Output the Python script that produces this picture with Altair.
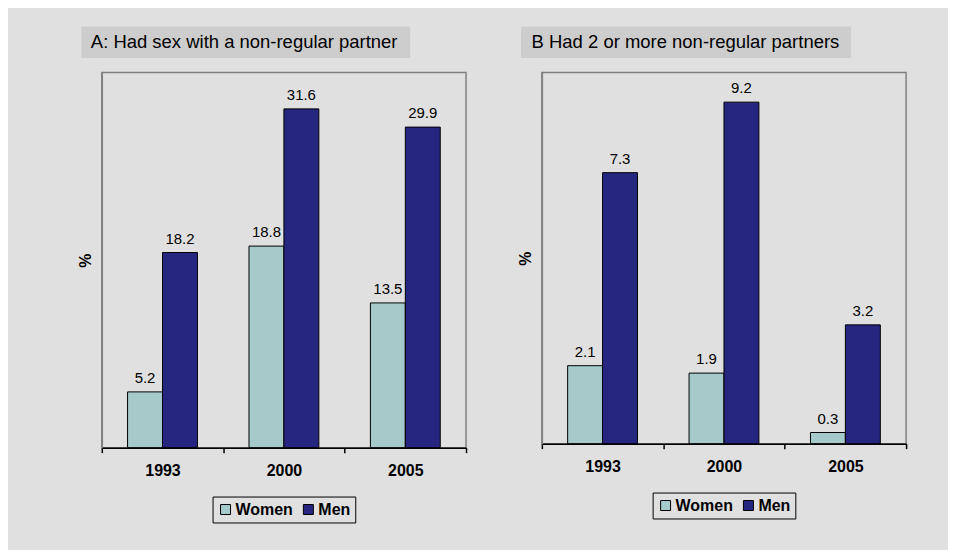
import altair as alt
import pandas as pd

# ---- data ----
years = ["1993", "2000", "2005"]
series = ["Women", "Men"]
a_women = [5.2, 18.8, 13.5]
a_men = [18.2, 31.6, 29.9]
b_women = [2.1, 1.9, 0.3]
b_men = [7.3, 9.2, 3.2]
title_a = "A: Had sex with a non-regular partner"
title_b = "B Had 2 or more non-regular partners"
colors = ["#a6caca", "#262680"]

FONT = "Liberation Sans"
W = 365
BG = "#e0e0e0"


def frame(w, m):
    rows = []
    for yr, v in zip(years, w):
        rows.append({"year": yr, "sex": "Women", "value": v})
    for yr, v in zip(years, m):
        rows.append({"year": yr, "sex": "Men", "value": v})
    return pd.DataFrame(rows)


def panel(df, ymax, height, title, legend_y, title_box, with_bg=False):
    x = alt.X(
        "year:N", sort=years,
        scale=alt.Scale(paddingInner=0, paddingOuter=0),
        axis=alt.Axis(title=None, labelAngle=0, labelFont=FONT, labelFontSize=16,
                      labelFontWeight="bold", labelColor="black", tickBand="extent",
                      tickSize=5, tickColor="black", tickWidth=1.5, domainColor="black",
                      domainWidth=1.5, labelPadding=10),
    )
    xo = alt.XOffset("sex:N", sort=series,
                     scale=alt.Scale(paddingInner=0, paddingOuter=0.738))
    y = alt.Y(
        "value:Q",
        scale=alt.Scale(domain=[0, ymax], nice=False, zero=True),
        axis=alt.Axis(labels=False, ticks=False, grid=False, domainColor="#808080",
                      domainWidth=1.5, title="%", titleFont=FONT, titleFontSize=16,
                      titleFontWeight="bold", titleColor="black", titleAngle=270,
                      titleX=-16, titleY=height / 2, titleBaseline="middle",
                      titleAlign="center"),
    )
    color = alt.Color(
        "sex:N", sort=series,
        scale=alt.Scale(domain=series, range=colors),
        legend=alt.Legend(title=None, orient="none", legendX=111, legendY=legend_y,
                          direction="horizontal", strokeColor="black", padding=5,
                          labelFont=FONT, labelFontSize=16, labelFontWeight="bold",
                          labelColor="black", symbolType="square", symbolSize=100,
                          symbolStrokeColor="black", symbolStrokeWidth=1,
                          columnPadding=7, labelOffset=2),
    )
    bars = alt.Chart(df).mark_bar(stroke="black", strokeWidth=1).encode(
        x=x, xOffset=xo, y=y, color=color)
    labels = alt.Chart(df).mark_text(font=FONT, fontSize=15, baseline="alphabetic",
                                     dy=-9, color="black").encode(
        x=x, xOffset=xo, y=y, text=alt.Text("value:Q", format=".1f"))
    tdf = pd.DataFrame({"t": [title]})
    bx0, bx1, tx = title_box
    box = alt.Chart(tdf).mark_rect(fill="#cdcdcd").encode(
        x=alt.value(bx0), x2=alt.value(bx1), y=alt.value(-46), y2=alt.value(-14.5))
    ttext = alt.Chart(tdf).mark_text(align="left", baseline="alphabetic", font=FONT,
                                     fontSize=18.5, color="black").encode(
        x=alt.value(tx), y=alt.value(-24.3), text="t:N")
    layers = [box, ttext, bars, labels]
    if with_bg:
        # invisible frame that fixes the canvas extent (whole grey page area)
        bg = alt.Chart(pd.DataFrame({"k": [0]})).mark_rect(
            fill=BG, opacity=0).encode(
            x=alt.value(-93), x2=alt.value(847), y=alt.value(-63), y2=alt.value(479))
        layers = [bg] + layers
    return alt.layer(*layers).properties(width=W, height=height)


pa = panel(frame(a_women, a_men), 35, 376, title_a, 425, (-20.5, 309, -11), with_bg=True)
pb = panel(frame(b_women, b_men), 10, 372, title_b, 421, (-21, 309.7, -10.3))

chart = (
    alt.hconcat(pa, pb, spacing=76, bounds="flush")
    .resolve_scale(x="independent", y="independent", color="independent",
                   xOffset="independent")
    .resolve_legend(color="independent")
    .properties(padding=0, background=BG)
    .configure_view(stroke="#808080", strokeWidth=1.5)
)

chart.save("out.html", embed_options={"renderer": "svg", "actions": False})
